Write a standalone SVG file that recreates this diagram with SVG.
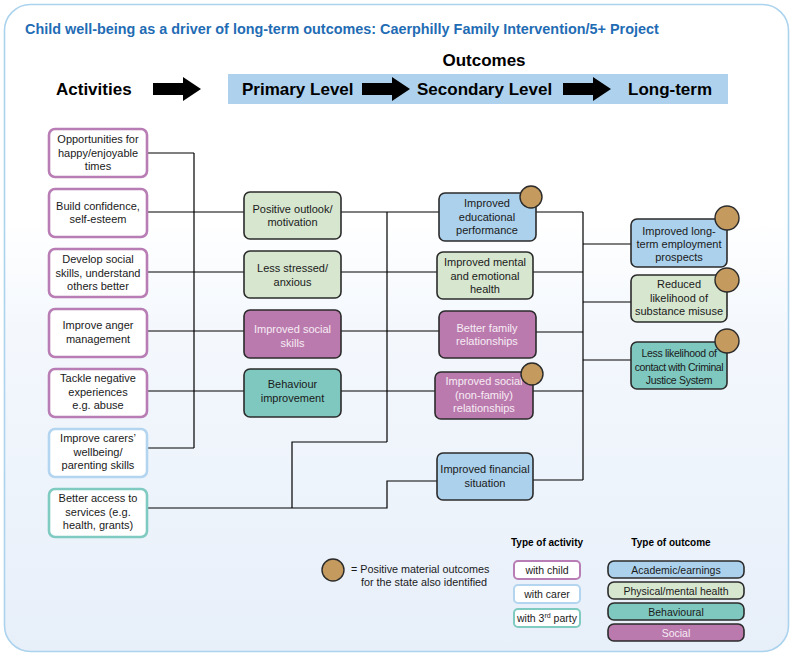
<svg xmlns="http://www.w3.org/2000/svg" width="794" height="658" viewBox="0 0 794 658">
<defs>
<linearGradient id="bg" x1="0" y1="0" x2="0" y2="1">
<stop offset="0" stop-color="#ffffff"/>
<stop offset="0.33" stop-color="#ffffff"/>
<stop offset="0.5" stop-color="#f4f8fd"/>
<stop offset="1" stop-color="#e7eff9"/>
</linearGradient>
<polygon id="arr" points="0,-6 30,-6 30,-12 48,0 30,12 30,6 0,6"/>
</defs>
<style>
text{font-family:"Liberation Sans",Arial,sans-serif;fill:#1a1a1a}
.t{font-size:11px;text-anchor:middle}
.w{fill:#f6ecf4}
.h{font-size:17px;font-weight:bold;fill:#000}
.act{fill:#fff;stroke-width:2.6}
.ch{stroke:#b87db4}
.ca{stroke:#b3d5ef}
.tp{stroke:#80cbc1}
.out{stroke:#2b2b2b;stroke-width:1.6}
.blue{fill:#acd1ec}
.green{fill:#d6e6cf}
.teal{fill:#7fc8c0}
.pur{fill:#bb7aae}
.badge{fill:#c49a5e;stroke:#2b2b2b;stroke-width:1.4}
.con{fill:none;stroke:#000;stroke-width:1.2}
.lg{font-size:10px;font-weight:bold;text-anchor:middle;fill:#000}
</style>
<rect x="4.5" y="4.5" width="784" height="647" rx="26" fill="url(#bg)" stroke="#acd3ee" stroke-width="1.6"/>
<text x="25" y="34" style="font-size:14.4px;font-weight:bold;fill:#1f6cb4">Child well-being as a driver of long-term outcomes: Caerphilly Family Intervention/5+ Project</text>

<g id="header">
<text x="484" y="66" class="h" text-anchor="middle">Outcomes</text>
<rect x="228" y="74" width="500" height="30" fill="#aed2ee"/>
<text x="56" y="95" class="h">Activities</text>
<use href="#arr" x="153" y="89"/>
<text x="242" y="95" class="h">Primary Level</text>
<use href="#arr" x="362" y="89"/>
<text x="417" y="95" class="h">Secondary Level</text>
<use href="#arr" x="563" y="89"/>
<text x="628" y="95" class="h">Long-term</text>
</g>

<g id="connectors" class="con">
<path d="M148 153H194M148 212H244M148 272H244M148 331H244M148 391H244M148 448H194M194 153V448"/>
<path d="M148 508H387V481H437M292 508V442H387M387 212V442"/>
<path d="M341 212H439M341 272H437M341 331H439M341 391H435"/>
<path d="M536 212H583M533 272H583M536 332H583M533 391H583M533 480H583M583 212V480"/>
<path d="M583 244H631M583 302H631M583 360H631"/>
</g>

<g id="a1"><rect x="49" y="129" width="98" height="48" rx="6" class="act ch"/>
<text class="t" x="98" y="143">Opportunities for</text><text class="t" x="98" y="156.5">happy/enjoyable</text><text class="t" x="98" y="170">times</text></g>
<g id="a2"><rect x="49" y="189" width="98" height="48" rx="6" class="act ch"/>
<text class="t" x="98" y="210">Build confidence,</text><text class="t" x="98" y="223">self-esteem</text></g>
<g id="a3"><rect x="49" y="249" width="98" height="48" rx="6" class="act ch"/>
<text class="t" x="98" y="263">Develop social</text><text class="t" x="98" y="276.5">skills, understand</text><text class="t" x="98" y="290">others better</text></g>
<g id="a4"><rect x="49" y="309" width="98" height="48" rx="6" class="act ch"/>
<text class="t" x="98" y="329">Improve anger</text><text class="t" x="98" y="343">management</text></g>
<g id="a5"><rect x="49" y="369" width="98" height="48" rx="6" class="act ch"/>
<text class="t" x="98" y="382">Tackle negative</text><text class="t" x="98" y="395.5">experiences</text><text class="t" x="98" y="409">e.g. abuse</text></g>
<g id="a6"><rect x="49" y="429" width="98" height="48" rx="6" class="act ca"/>
<text class="t" x="98" y="442">Improve carers’</text><text class="t" x="98" y="455.5">wellbeing/</text><text class="t" x="98" y="469">parenting skills</text></g>
<g id="a7"><rect x="49" y="489" width="98" height="48" rx="6" class="act tp"/>
<text class="t" x="98" y="502">Better access to</text><text class="t" x="98" y="515.5">services (e.g.</text><text class="t" x="98" y="529">health, grants)</text></g>

<g id="p1"><rect x="244" y="192" width="97" height="47" rx="6" class="out green"/>
<text class="t" x="292.5" y="213">Positive outlook/</text><text class="t" x="292.5" y="226">motivation</text></g>
<g id="p2"><rect x="244" y="251" width="97" height="47" rx="6" class="out green"/>
<text class="t" x="292.5" y="272">Less stressed/</text><text class="t" x="292.5" y="286">anxious</text></g>
<g id="p3"><rect x="244" y="310" width="97" height="48" rx="6" class="out pur"/>
<text class="t w" x="292.5" y="333">Improved social</text><text class="t w" x="292.5" y="347">skills</text></g>
<g id="p4"><rect x="244" y="369" width="97" height="48" rx="6" class="out teal"/>
<text class="t" x="292.5" y="388">Behaviour</text><text class="t" x="292.5" y="402">improvement</text></g>

<g id="s1"><rect x="439" y="193" width="97" height="48" rx="6" class="out blue"/>
<text class="t" x="487" y="207">Improved</text><text class="t" x="487" y="221">educational</text><text class="t" x="487" y="234">performance</text>
<circle cx="531" cy="197" r="11" class="badge"/></g>
<g id="s2"><rect x="437" y="252" width="96" height="47" rx="6" class="out green"/>
<text class="t" x="485" y="266">Improved mental</text><text class="t" x="485" y="279.5">and emotional</text><text class="t" x="485" y="293">health</text></g>
<g id="s3"><rect x="439" y="311" width="97" height="47" rx="6" class="out pur"/>
<text class="t w" x="487" y="332">Better family</text><text class="t w" x="487" y="345">relationships</text></g>
<g id="s4"><rect x="435" y="372" width="98" height="47" rx="6" class="out pur"/>
<text class="t w" x="484" y="385">Improved social</text><text class="t w" x="484" y="398.5">(non-family)</text><text class="t w" x="484" y="412">relationships</text>
<circle cx="532" cy="374" r="11" class="badge"/></g>
<g id="s5"><rect x="437" y="453" width="96" height="47" rx="6" class="out blue"/>
<text class="t" x="485" y="473">Improved financial</text><text class="t" x="485" y="487">situation</text></g>

<g id="l1"><rect x="631" y="219" width="96" height="48" rx="6" class="out blue"/>
<text class="t" x="679" y="235">Improved long-</text><text class="t" x="679" y="248">term employment</text><text class="t" x="679" y="261">prospects</text>
<circle cx="727" cy="218" r="12" class="badge"/></g>
<g id="l2"><rect x="631" y="275" width="96" height="47" rx="6" class="out green"/>
<text class="t" x="679" y="288">Reduced</text><text class="t" x="679" y="301.5">likelihood of</text><text class="t" x="679" y="315">substance misuse</text>
<circle cx="727" cy="280" r="12" class="badge"/></g>
<g id="l3"><rect x="631" y="342" width="96" height="47" rx="6" class="out teal"/>
<text class="t" x="679" y="357" style="font-size:10.5px;letter-spacing:-0.3px">Less likelihood of</text><text class="t" x="679" y="370.5" style="font-size:10.5px;letter-spacing:-0.4px">contact with Criminal</text><text class="t" x="679" y="384" style="font-size:10.5px;letter-spacing:-0.3px">Justice System</text>
<circle cx="727" cy="341" r="12" class="badge"/></g>

<g id="legend">
<circle cx="333" cy="570" r="11" class="badge"/>
<text x="351" y="573" style="font-size:10.8px">= Positive material outcomes</text>
<text x="361" y="586" style="font-size:10.8px">for the state also identified</text>
<text x="547" y="546" class="lg">Type of activity</text>
<text x="671" y="546" class="lg">Type of outcome</text>
<rect x="514" y="561" width="66" height="18" rx="4" class="act ch" style="stroke-width:2"/>
<text class="t" x="547" y="574" style="font-size:10.5px">with child</text>
<rect x="514" y="585" width="66" height="18" rx="4" class="act ca" style="stroke-width:2"/>
<text class="t" x="547" y="598" style="font-size:10.5px">with carer</text>
<rect x="514" y="609" width="66" height="18" rx="4" class="act tp" style="stroke-width:2"/>
<text class="t" x="547" y="622" style="font-size:10.5px">with 3<tspan dy="-4" style="font-size:7px">rd</tspan><tspan dy="4"> party</tspan></text>
<rect x="608" y="561" width="136" height="17" rx="6" class="out blue"/>
<text class="t" x="676" y="573.5" style="font-size:10.5px">Academic/earnings</text>
<rect x="608" y="582" width="136" height="17" rx="6" class="out green"/>
<text class="t" x="676" y="594.5" style="font-size:10.5px">Physical/mental health</text>
<rect x="608" y="603" width="136" height="17" rx="6" class="out teal"/>
<text class="t" x="676" y="615.5" style="font-size:10.5px">Behavioural</text>
<rect x="608" y="624" width="136" height="17" rx="6" class="out pur"/>
<text class="t w" x="676" y="636.5" style="font-size:10.5px">Social</text>
</g>
</svg>
